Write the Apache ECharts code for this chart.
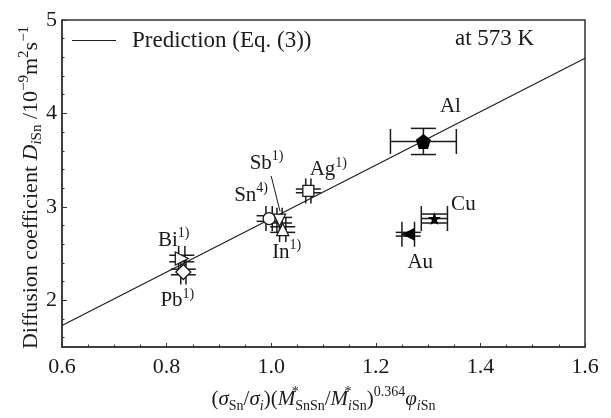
<!DOCTYPE html>
<html>
<head>
<meta charset="utf-8">
<script src="https://cdn.jsdelivr.net/npm/echarts@6/dist/echarts.min.js"></script>
<style>
  html, body { margin: 0; padding: 0; background: #fff; }
  #chart { width: 611px; height: 418px; }
</style>
</head>
<body>
<div id="chart"></div>
<script>
// measured points (element, x, D, errors)
var names = ["Al", "Cu", "Au", "Ag", "Sn", "Sb", "In", "Bi", "Pb"];
var xVals = [1.291, 1.312, 1.262, 1.071, 0.996, 1.016, 1.022, 0.829, 0.832];
var yVals = [3.70, 2.875, 2.707, 3.171, 2.875, 2.857, 2.757, 2.447, 2.303];
var xErr = [0.063, 0.025, 0.012, 0.005, 0.006, 0.005, 0.006, 0.006, 0.005];
var yErr = [0.14, 0.048, 0.02, 0.02, 0.03, 0.03, 0.03, 0.035, 0.03];
var refNote = ["", "", "", "1)", "4)", "1)", "1)", "1)", "1)"];

// prediction line (Eq. 3)
var predX = [0.6, 1.6];
var predY = [1.73, 4.59];

// Sb annotation arrow
var arrowFrom = [1.0, 3.33];
var arrowTo = [1.017, 2.95];

// tick values
var yTicks = [2, 3, 4, 5];
var yMinorTicks = [1.6, 1.8, 2.2, 2.4, 2.6, 2.8, 3.2, 3.4, 3.6, 3.8, 4.2, 4.4, 4.6, 4.8];

var FONT = "'Liberation Serif', 'DejaVu Serif', serif";
var INK = "#1a1a1a";

var pentagon = "path://M0,-1 L0.951,-0.309 L0.588,0.809 L-0.588,0.809 L-0.951,-0.309 Z";
var star = "path://M0,-1 L0.225,-0.309 L0.951,-0.309 L0.363,0.118 L0.588,0.809 L0,0.382 L-0.588,0.809 L-0.363,0.118 L-0.951,-0.309 L-0.225,-0.309 Z";

var markerStyle = {
  Al: { symbol: pentagon, size: 15, rotate: 0, filled: true, off: [27, -35] },
  Cu: { symbol: star, size: 13, rotate: 0, filled: true, off: [29, -14] },
  Au: { symbol: "triangle", size: 13, rotate: 90, filled: true, off: [12, 28] },
  Ag: { symbol: "rect", size: 11, rotate: 0, filled: false, off: [20, -21] },
  Sn: { symbol: "circle", size: 12, rotate: 0, filled: false, off: [-18, -23] },
  Sb: { symbol: "triangle", size: 12, rotate: 180, filled: false, off: [-13, -57] },
  In: { symbol: "triangle", size: 12, rotate: 0, filled: false, off: [4, 23] },
  Bi: { symbol: "triangle", size: 13, rotate: -90, filled: false, off: [-8, -18] },
  Pb: { symbol: "diamond", size: 15, rotate: 0, filled: false, off: [-6, 29] }
};

function makeRich(big, small) {
  return {
    n: { fontFamily: FONT, fontSize: big, color: INK, lineHeight: 28 },
    it: { fontFamily: FONT, fontSize: big, fontStyle: "italic", color: INK, lineHeight: 28 },
    sub: { fontFamily: FONT, fontSize: small, color: INK, lineHeight: 15, verticalAlign: "bottom" },
    subit: { fontFamily: FONT, fontSize: small, fontStyle: "italic", color: INK, lineHeight: 15, verticalAlign: "bottom" },
    sup: { fontFamily: FONT, fontSize: small, color: INK, lineHeight: 17, verticalAlign: "top" },
    star: { fontFamily: FONT, fontSize: small, color: INK, lineHeight: 17, verticalAlign: "top", width: 0 }
  };
}
var richBase = makeRich(21, 14);
var richY = makeRich(22, 15);

var errData = names.map(function (n, i) {
  return [xVals[i], yVals[i], xErr[i], yErr[i]];
});

var series = [
  {
    name: "Prediction (Eq. (3))",
    type: "line",
    data: predX.map(function (x, i) { return [x, predY[i]]; }),
    symbol: "none",
    itemStyle: { color: INK },
    lineStyle: { color: INK, width: 1.1 },
    z: 2,
    animation: false
  },
  {
    type: "custom",
    data: errData,
    encode: { x: 0, y: 1 },
    z: 3,
    silent: true,
    animation: false,
    renderItem: function (params, api) {
      var x = api.value(0), y = api.value(1), xe = api.value(2), ye = api.value(3);
      var l = api.coord([x - xe, y]);
      var r = api.coord([x + xe, y]);
      var t = api.coord([x, y + ye]);
      var b = api.coord([x, y - ye]);
      var cap = 12.5;
      var st = { stroke: INK, lineWidth: 1.5 };
      var seg = function (x1, y1, x2, y2) {
        return { type: "line", shape: { x1: x1, y1: y1, x2: x2, y2: y2 }, style: st };
      };
      return {
        type: "group",
        children: [
          seg(l[0], l[1], r[0], r[1]),
          seg(t[0], t[1], b[0], b[1]),
          seg(l[0], l[1] - cap, l[0], l[1] + cap),
          seg(r[0], r[1] - cap, r[0], r[1] + cap),
          seg(t[0] - cap, t[1], t[0] + cap, t[1]),
          seg(b[0] - cap, b[1], b[0] + cap, b[1])
        ]
      };
    }
  }
];

names.forEach(function (n, i) {
  var m = markerStyle[n];
  var s = {
    name: n,
    type: "scatter",
    data: [[xVals[i], yVals[i]]],
    symbol: m.symbol,
    symbolSize: m.size,
    symbolRotate: m.rotate,
    itemStyle: {
      color: m.filled ? "#000" : "#fff",
      borderColor: INK,
      borderWidth: m.filled ? 0 : 1.3,
      opacity: 1
    },
    label: {
      show: true,
      position: "inside",
      offset: m.off,
      color: INK,
      textBorderWidth: 0,
      textBorderColor: "transparent",
      formatter: refNote[i] ? "{n|" + n + "}{sup|" + refNote[i] + "}" : "{n|" + n + "}",
      rich: richBase
    },
    z: 4,
    animation: false
  };
  if (n === "Sb") {
    s.markLine = {
      silent: true,
      symbol: ["none", "arrow"],
      symbolSize: [0, 8],
      lineStyle: { color: INK, width: 1, type: "solid", opacity: 1 },
      itemStyle: { color: INK },
      label: { show: false },
      data: [[{ coord: arrowFrom }, { coord: arrowTo }]],
      animation: false
    };
  }
  series.push(s);
});

var chart = echarts.init(document.getElementById("chart"));
chart.setOption({
  animation: false,
  backgroundColor: "#fff",
  grid: {
    left: 62, right: 26, top: 20, bottom: 71,
    show: true, borderColor: "#333", borderWidth: 1.5
  },
  legend: {
    data: [{ name: "Prediction (Eq. (3))", icon: "rect" }],
    left: 72, top: 29, padding: 0,
    itemWidth: 44, itemHeight: 1.2,
    textStyle: { fontFamily: FONT, fontSize: 23, color: INK, padding: [0, 0, 0, 11] }
  },
  graphic: [{
    type: "text",
    left: 455, top: 27,
    style: { text: "at 573 K", font: "23px " + FONT, fill: INK }
  }],
  xAxis: {
    type: "value",
    min: 0.6, max: 1.6, interval: 0.2,
    axisLine: { show: true, lineStyle: { color: "#333", width: 1.5 } },
    axisTick: { show: true, inside: true, length: 4, lineStyle: { color: "#333" } },
    minorTick: { show: true, splitNumber: 4, length: 2.5, lineStyle: { color: "#333" } },
    splitLine: { show: false },
    axisLabel: {
      margin: 9, fontFamily: FONT, fontSize: 22, color: INK,
      showMinLabel: true, showMaxLabel: true,
      formatter: function (v) { return v.toFixed(1); }
    },
    name: "{n|(}{it|σ}{sub|Sn}{n|/}{it|σ}{subit|i}{n|)(}{it|M}{star|*}{sub|SnSn}{n|/}{it|M}{star|*}{subit|i}{sub|Sn}{n|)}{sup|0.364}{it|φ}{subit|i}{sub|Sn}",
    nameLocation: "middle",
    nameGap: 38,
    nameTextStyle: { rich: richBase }
  },
  yAxis: [{
    type: "value",
    min: 1.5, max: 5,
    axisLine: { show: true, lineStyle: { color: "#333", width: 1.5 } },
    axisTick: { show: true, inside: true, length: 5, customValues: yTicks, lineStyle: { color: "#333" } },
    splitLine: { show: false },
    axisLabel: {
      margin: 5, fontFamily: FONT, fontSize: 22, color: INK,
      customValues: yTicks
    },
    name: "{n|Diffusion coefficient }{it|D}{subit|i}{sub|Sn}{n| /10}{sup|−9}{n|m}{sup|2}{n|s}{sup|−1}",
    nameLocation: "middle",
    nameRotate: 90,
    nameGap: 17,
    nameMoveOverlap: false,
    nameTextStyle: { rich: richY, padding: [0, 8, 0, 0] }
  }, {
    type: "value",
    min: 1.5, max: 5,
    position: "left",
    axisLine: { show: false },
    axisTick: { show: true, inside: true, length: 2.5, customValues: yMinorTicks, lineStyle: { color: "#333" } },
    axisLabel: { show: false },
    splitLine: { show: false }
  }],
  series: series
});
</script>
</body>
</html>
